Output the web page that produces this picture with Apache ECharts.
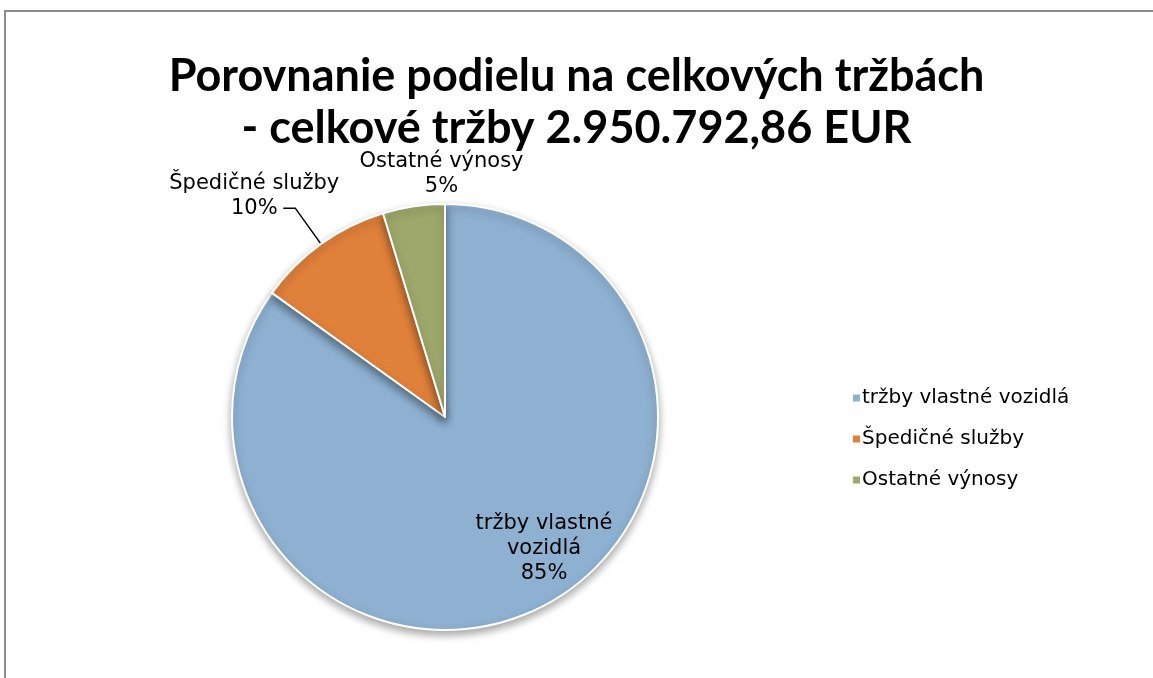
<!DOCTYPE html>
<html>
<head>
<meta charset="utf-8">
<script src="https://cdn.jsdelivr.net/npm/echarts@6/dist/echarts.min.js"></script>
<style>
	html, body { margin: 0; padding: 0; background: #fff; overflow: hidden; }
	.edge { position: absolute; background: #8c8c8c; }
	#pieCharts { position: absolute; left: 0; top: 0; width: 1153px; height: 678px; }
</style>
</head>
<body>
<div class="edge" style="left:4px; top:10px; width:1149px; height:2px;"></div>
<div class="edge" style="left:4px; top:10px; width:2px; height:668px;"></div>
<div id="pieCharts"></div>
<script>
// kategorie a podiel na trzbach (%)
var categories = ['tržby vlastné vozidlá', 'Špedičné služby', 'Ostatné výnosy'];
var shares = [84.9, 10.4, 4.7];
var titleLines = ['Porovnanie podielu na celkových tržbách', '- celkové tržby 2.950.792,86 EUR'];

var titleFont = 'Lato, "DejaVu Sans", sans-serif';
var textFont = '"DejaVu Sans", sans-serif';
var colors = ['#8eb1d2', '#e0813b', '#9fa86b'];

var pieData = [];
for (var i = 0; i < categories.length; i++) {
	pieData.push({ name: categories[i], value: shares[i] });
}
// popisky: prvy vnutri, ostatne vonku
pieData[0].label = { position: 'inside' };
pieData[1].label = { position: 'outside' };
pieData[1].labelLine = { show: true, length: 44, length2: 12 };
pieData[2].label = { position: 'outside' };
pieData[2].labelLine = { show: false, length: 8, length2: 0 };

var myChart = echarts.init(document.getElementById('pieCharts'));
var option = {
	animation: false,
	title: {
		text: titleLines.join('\n'),
		left: 'center',
		top: 45,
		textStyle: {
			fontFamily: titleFont,
			fontSize: 45,
			fontWeight: 'bold',
			color: '#000',
			lineHeight: 52
		}
	},
	legend: {
		orient: 'vertical',
		left: 846,
		top: 383,
		itemWidth: 9,
		itemHeight: 9,
		itemGap: 21,
		icon: 'rect',
		textStyle: { fontFamily: textFont, fontSize: 20, color: '#000', padding: [0, 0, 0, -4] },
		data: categories
	},
	series: [{
		name: 'Podiel',
		type: 'pie',
		center: [445, 417],
		radius: [0, 213],
		startAngle: 90,
		clockwise: true,
		avoidLabelOverlap: false,
		color: colors,
		itemStyle: {
			borderColor: '#fff',
			borderWidth: 2,
			shadowBlur: 8,
			shadowOffsetY: 4,
			shadowColor: 'rgba(0,0,0,0.35)'
		},
		label: {
			show: true,
			fontFamily: textFont,
			fontSize: 21,
			lineHeight: 25,
			color: '#000',
			align: 'center',
			formatter: function(params) {
				var name = params.name;
				if (params.dataIndex === 0) {
					name = 'tržby vlastné\nvozidlá';
				}
				return name + '\n' + Math.round(params.percent) + '%';
			}
		},
		labelLine: {
			lineStyle: { color: '#000', width: 1.5 }
		},
		labelLayout: function(params) {
			if (params.dataIndex === 0) {
				return { dx: 49, dy: 34 };
			}
			if (params.dataIndex === 1) {
				return { align: 'center', dx: -24, dy: -12, labelLinePoints: params.labelLinePoints };
			}
			return { align: 'center', dx: 34, dy: -24 };
		},
		data: pieData
	}]
};
myChart.setOption(option);
</script>
</body>
</html>
